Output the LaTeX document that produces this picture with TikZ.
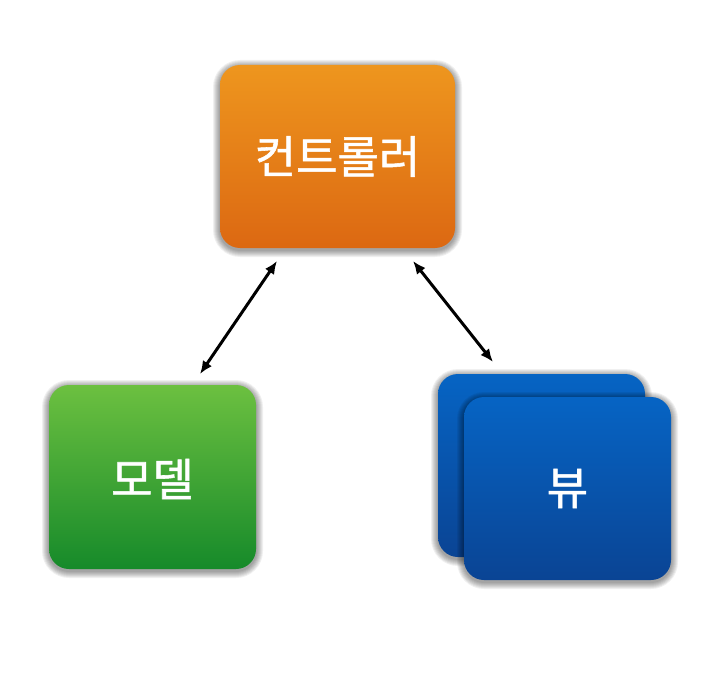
\documentclass[tikz,border=0pt]{standalone}
\usepackage{fontspec}
\newfontfamily\kr[FakeBold=1.2]{Noto Sans CJK KR}
\usetikzlibrary{arrows.meta}
\definecolor{orTop}{HTML}{EE961E}
\definecolor{orBot}{HTML}{DC6812}
\definecolor{grTop}{HTML}{6CC040}
\definecolor{grBot}{HTML}{168A2A}
\definecolor{blTop}{HTML}{0664C4}
\definecolor{blBot}{HTML}{0A4494}
\newcommand\cardshadow[4]{%
  \foreach \i in {1,...,7}{%
    \fill[black, opacity=0.06, rounded corners={20pt+\i pt}]
      (#1-#3/2-\i, #2-#4/2-\i+2) rectangle (#1+#3/2+\i, #2+#4/2+\i+2);
  }%
}
\tikzset{
  card/.style={rounded corners=20pt, inner sep=0pt, outer sep=0pt},
  lbl/.style={text=white, font=\kr\fontsize{45}{50}\selectfont},
  link/.style={line width=3pt, {Latex[length=13pt,width=11pt]}-{Latex[length=13pt,width=11pt]}}
}
\begin{document}
\begin{tikzpicture}[x=1pt,y=-1pt]
\useasboundingbox (0,0) rectangle (720,698);
\fill[white] (0,0) rectangle (720,698);
% controller
\cardshadow{337.5}{156.5}{235}{183}
\node[card, top color=orTop, bottom color=orBot, minimum width=235pt, minimum height=183pt] (ctrl) at (337.5,156.5) {};
\node[lbl] (ctrltxt) at (ctrl.center) {컨트롤러};
% model
\cardshadow{152.5}{477}{207}{184}
\node[card, top color=grTop, bottom color=grBot, minimum width=207pt, minimum height=184pt] (model) at (152.5,477) {};
\node[lbl] (modeltxt) at ([yshift=-2pt]model.center) {모델};
% views
\cardshadow{541.5}{465.5}{207}{183}
\node[card, top color=blTop, bottom color=blBot, minimum width=207pt, minimum height=183pt] (viewback) at (541.5,465.5) {};
\cardshadow{567.5}{488.5}{207}{183}
\node[card, top color=blTop, bottom color=blBot, minimum width=207pt, minimum height=183pt] (view) at (567.5,488.5) {};
\node[lbl] (viewtxt) at (view.center) {뷰};
% arrow ends
\coordinate (c1) at (277,261);
\coordinate (m1) at (200,374);
\coordinate (c2) at (413,261);
\coordinate (v1) at (493,362);
\draw[link] (c1) -- (m1);
\draw[link] (c2) -- (v1);
\end{tikzpicture}
\end{document}
